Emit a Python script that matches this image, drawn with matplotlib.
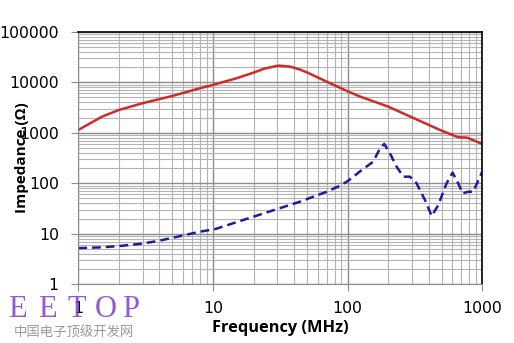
import numpy as np
import matplotlib.pyplot as plt
from matplotlib.ticker import LogLocator, FixedLocator, NullFormatter

# ---- data ----
freq_red = [1, 1.5, 2, 3, 5, 8, 10, 15, 20, 24.3, 30.5, 37.3, 44.3, 50, 74,
            100, 124, 200, 484, 600, 662, 770, 1000]
imp_red = [1135, 2080, 2820, 3840, 5350, 7600, 8850, 12000, 15500, 18700,
           21300, 20400, 17800, 15600, 9560, 6600, 5190, 3290, 1136, 904,
           815, 800, 600]

freq_blue = [1, 1.5, 2, 3, 4, 5.5, 8, 10.3, 20, 44, 70, 88, 100, 123, 155,
             174, 187, 206, 231, 259, 290, 325, 375, 421, 471, 543, 602, 662,
             714, 786, 856, 1000]
imp_blue = [5.2, 5.4, 5.7, 6.4, 7.3, 8.8, 11.0, 12.3, 21.8, 43, 68, 90, 110,
            170, 268, 493, 600, 393, 213, 135, 135, 100, 46.7, 22.5, 37, 100,
            162, 100, 63, 68, 68, 170]

x_ticks = [1, 10, 100, 1000]
x_labels = ['1', '10', '100', '1000']
y_ticks = [1, 10, 100, 1000, 10000, 100000]
y_labels = ['1', '10', '100', '1000', '10000', '100000']

wm_letters = ['E', 'E', 'T', 'O', 'P']
wm_x = [8, 38, 67, 95, 122]

fig = plt.figure(figsize=(5.14, 3.43), dpi=100)
ax = fig.add_axes([78.3 / 514, 1 - 284.3 / 343, 404 / 514, 252.6 / 343])

ax.plot(freq_red, imp_red, color='#d02a2a', lw=1.8, solid_joinstyle='round')
ax.plot(freq_blue, imp_blue, color='#1c1c9c', lw=1.8, ls=(0, (3.5, 2)))

ax.set_xscale('log')
ax.set_yscale('log')
ax.set_xlim(1, 1000)
ax.set_ylim(1, 100000)

ax.xaxis.set_major_locator(FixedLocator(x_ticks))
ax.set_xticklabels(x_labels)
ax.yaxis.set_major_locator(FixedLocator(y_ticks))
ax.set_yticklabels(y_labels)
ax.xaxis.set_minor_locator(LogLocator(base=10, subs=np.arange(2, 10)))
ax.yaxis.set_minor_locator(LogLocator(base=10, subs=np.arange(2, 10)))
ax.xaxis.set_minor_formatter(NullFormatter())
ax.yaxis.set_minor_formatter(NullFormatter())

ax.grid(which='major', color='#8c8c8c', lw=1.0)
ax.grid(which='minor', color='#b4b4b4', lw=0.8)
ax.set_axisbelow(True)

ax.tick_params(which='major', length=5, color='#8c8c8c', labelsize=11.3)
ax.tick_params(which='minor', length=0)
ax.tick_params(axis='y', pad=9)
ax.tick_params(axis='x', pad=7)

for s in ['left', 'bottom']:
    ax.spines[s].set_color('#8c8c8c')
for s in ['top', 'right']:
    ax.spines[s].set_color('black')
    ax.spines[s].set_linewidth(1.2)

ax.set_xlabel('Frequency (MHz)', fontsize=11.8, fontweight='bold',
              family='Open Sans', labelpad=3)
ax.set_ylabel('Impedance (Ω)', fontsize=11, fontweight='bold',
              family='Open Sans')
ax.yaxis.set_label_coords(-0.122, 0.5)

# watermark
for letter, px in zip(wm_letters, wm_x):
    fig.text(px / 514, 1 - 317 / 343, letter, color='#7f3cc8', fontsize=22,
             family='Liberation Serif', alpha=0.85)
fig.text(14 / 514, 1 - 337 / 343, '中国电子顶级开发网', color='#9a9a9a',
         fontsize=9.6, family=['Noto Sans CJK SC', 'DejaVu Sans'])

fig.savefig('out.png', dpi=100)
